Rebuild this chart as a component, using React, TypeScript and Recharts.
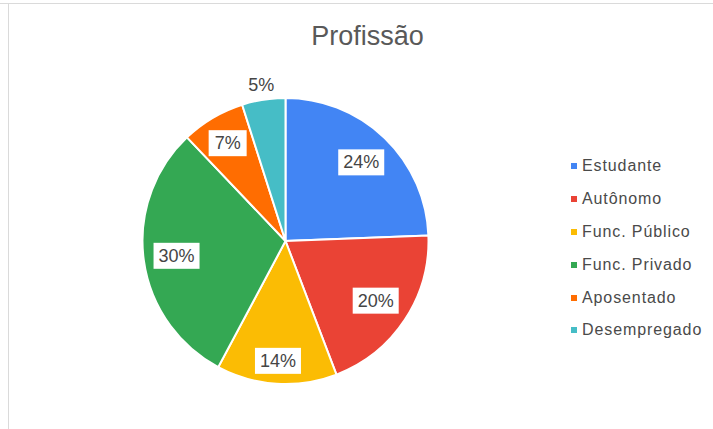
import React from "react";
import { PieChart, Pie, Cell, Legend } from "recharts";

const categories = ["Estudante", "Autônomo", "Func. Público", "Func. Privado", "Aposentado", "Desempregado"];
const shares = [24.4, 19.8, 13.6, 30.1, 7.2, 4.9];
const colors = ["#4285F4", "#EA4335", "#FBBC04", "#34A853", "#FF6D01", "#46BDC6"];

const data = categories.map((name, i) => ({ name, value: shares[i] }));

const RAD = Math.PI / 180;
const FONT = "'Liberation Sans', Arial, sans-serif";

const renderLabel = (props: any) => {
  const { cx, cy, midAngle, outerRadius, percent } = props;
  const txt = `${Math.round(percent * 100)}%`;
  const small = percent < 0.06;
  const w = txt.length * 8 + 22;
  const h = 26;
  const c = Math.cos(-midAngle * RAD);
  const s = Math.sin(-midAngle * RAD);
  const r = small
    ? outerRadius + 15
    : outerRadius - 8.5 - ((w / 2) * Math.abs(c) + (h / 2) * Math.abs(s));
  const x = cx + r * c;
  const y = cy + r * s;
  return (
    <g>
      {!small && <rect x={x - w / 2} y={y - h / 2} width={w} height={h} fill="#ffffff" />}
      <text
        x={x}
        y={y}
        textAnchor="middle"
        dominantBaseline="central"
        fontFamily={FONT}
        fontSize={18}
        fill="#454545"
      >
        {txt}
      </text>
    </g>
  );
};

const renderLegend = () => (
  <div style={{ fontFamily: FONT }}>
    {categories.map((c, i) => (
      <div key={c} style={{ display: "flex", alignItems: "center", height: 32.8 }}>
        <span style={{ display: "inline-block", width: 6, height: 6, background: colors[i], marginRight: 5 }} />
        <span style={{ fontSize: 16, color: "#4a4a4a", letterSpacing: 0.9 }}>{c}</span>
      </div>
    ))}
  </div>
);

export default function App() {
  return (
    <div style={{ position: "absolute", left: 0, top: 0, width: 713, height: 429, background: "#fff" }}>
      <div style={{ position: "absolute", left: 0, top: 3, width: 713, height: 1, background: "#dadada" }} />
      <div style={{ position: "absolute", left: 8, top: 3, width: 1, height: 426, background: "#dadada" }} />
      <div
        style={{
          position: "absolute",
          left: 0,
          width: 713,
          top: 21,
          textAlign: "center",
          fontFamily: FONT,
          fontSize: 27,
          color: "#595959",
          paddingLeft: 22,
          boxSizing: "border-box",
        }}
      >
        Profissão
      </div>
      <div style={{ position: "absolute", left: 0, top: 0 }}>
        <PieChart width={713} height={429} margin={{ top: 0, right: 0, bottom: 0, left: 0 }}>
          <Pie
            data={data}
            dataKey="value"
            nameKey="name"
            cx={285.5}
            cy={241}
            outerRadius={143}
            startAngle={90}
            endAngle={-270}
            stroke="#ffffff"
            strokeWidth={2}
            label={renderLabel}
            labelLine={false}
            isAnimationActive={false}
          >
            {data.map((d, i) => (
              <Cell key={d.name} fill={colors[i]} />
            ))}
          </Pie>
          <Legend
            layout="vertical"
            content={renderLegend}
            wrapperStyle={{ position: "absolute", left: 571, top: 150, width: 142 }}
          />
        </PieChart>
      </div>
    </div>
  );
}
